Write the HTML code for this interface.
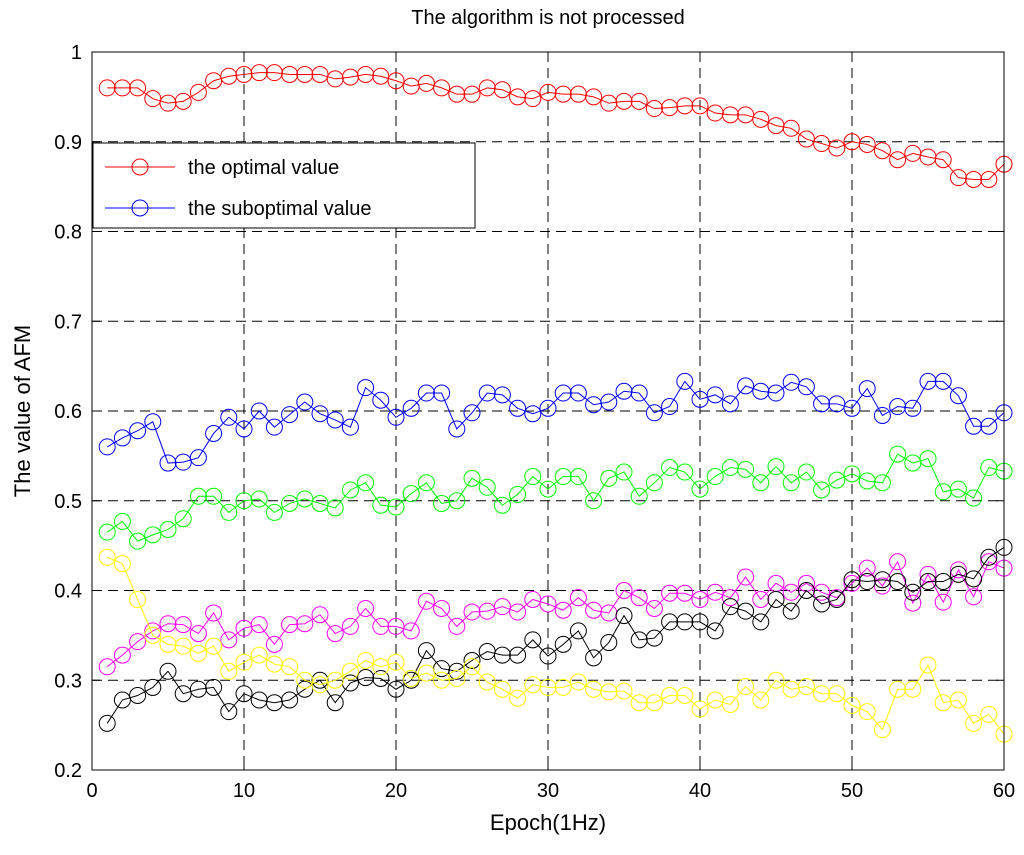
<!DOCTYPE html>
<html><head><meta charset="utf-8"><style>
body{margin:0;background:#fff;font-family:"Liberation Sans",sans-serif}
</style></head><body>
<svg id="chart" width="1024" height="850" xmlns="http://www.w3.org/2000/svg" font-family="Liberation Sans, sans-serif"></svg>
<script>
const epochs = Array.from({length:60},(_, i)=>i+1);
const optimal = [0.96,0.96,0.96,0.948,0.943,0.945,0.955,0.968,0.973,0.975,0.977,0.977,0.975,0.975,0.975,0.97,0.972,0.975,0.973,0.968,0.962,0.965,0.96,0.953,0.953,0.96,0.958,0.95,0.948,0.955,0.953,0.953,0.95,0.943,0.945,0.945,0.937,0.938,0.94,0.94,0.932,0.93,0.93,0.925,0.918,0.915,0.903,0.898,0.893,0.9,0.897,0.89,0.88,0.887,0.883,0.88,0.86,0.858,0.858,0.875];
const suboptimal = [0.56,0.57,0.578,0.588,0.542,0.543,0.548,0.575,0.593,0.58,0.6,0.582,0.596,0.61,0.597,0.59,0.582,0.626,0.612,0.593,0.603,0.62,0.62,0.58,0.598,0.62,0.618,0.603,0.597,0.603,0.62,0.62,0.607,0.61,0.622,0.62,0.598,0.605,0.633,0.613,0.618,0.608,0.628,0.622,0.62,0.632,0.627,0.608,0.608,0.603,0.625,0.595,0.605,0.603,0.633,0.633,0.617,0.583,0.583,0.598];
const greenSeries = [0.465,0.477,0.455,0.462,0.468,0.48,0.505,0.505,0.487,0.5,0.502,0.487,0.497,0.502,0.497,0.492,0.512,0.52,0.495,0.493,0.508,0.52,0.497,0.5,0.525,0.515,0.495,0.507,0.527,0.513,0.527,0.527,0.5,0.525,0.532,0.505,0.52,0.537,0.532,0.513,0.527,0.537,0.535,0.52,0.538,0.52,0.532,0.512,0.523,0.53,0.522,0.52,0.552,0.542,0.547,0.51,0.513,0.503,0.537,0.533];
const magentaSeries = [0.315,0.328,0.343,0.355,0.363,0.362,0.352,0.375,0.345,0.358,0.362,0.34,0.362,0.363,0.373,0.352,0.36,0.38,0.36,0.36,0.355,0.388,0.38,0.36,0.376,0.377,0.382,0.376,0.39,0.385,0.378,0.392,0.378,0.375,0.4,0.392,0.38,0.397,0.397,0.39,0.398,0.392,0.415,0.39,0.408,0.398,0.408,0.398,0.392,0.408,0.425,0.405,0.432,0.386,0.418,0.387,0.423,0.393,0.432,0.425];
const blackSeries = [0.252,0.278,0.283,0.292,0.31,0.285,0.29,0.292,0.265,0.285,0.278,0.275,0.278,0.29,0.3,0.275,0.297,0.303,0.302,0.29,0.3,0.333,0.313,0.31,0.322,0.332,0.328,0.328,0.345,0.327,0.34,0.355,0.325,0.342,0.372,0.345,0.347,0.365,0.365,0.365,0.355,0.382,0.377,0.365,0.39,0.377,0.4,0.385,0.39,0.412,0.41,0.412,0.41,0.398,0.41,0.41,0.418,0.413,0.437,0.448];
const yellowSeries = [0.437,0.43,0.39,0.35,0.34,0.338,0.33,0.338,0.31,0.32,0.328,0.318,0.315,0.3,0.295,0.3,0.31,0.322,0.315,0.32,0.302,0.308,0.3,0.302,0.315,0.298,0.29,0.28,0.295,0.292,0.292,0.298,0.29,0.287,0.288,0.275,0.275,0.283,0.283,0.268,0.278,0.273,0.293,0.278,0.3,0.29,0.293,0.285,0.285,0.272,0.265,0.245,0.29,0.29,0.317,0.275,0.278,0.252,0.262,0.24];
const xTicks = [0,10,20,30,40,50,60];
const yTicks = [0.2,0.3,0.4,0.5,0.6,0.7,0.8,0.9,1];

const L=92,R=1004,T=52,B=770;
const xs=v=>L+(v-0)/60*(R-L);
const ys=v=>B-(v-0.2)/0.8*(B-T);
const svg=document.getElementById('chart');
const NS='http://www.w3.org/2000/svg';
function mk(tag,attrs,parent){const e=document.createElementNS(NS,tag);for(const k in attrs)e.setAttribute(k,attrs[k]);(parent||svg).appendChild(e);return e;}

const bg=mk('rect',{x:L,y:T,width:R-L,height:B-T,fill:'#fff',stroke:'none'});



xTicks.forEach(t=>{
  const x=xs(t);
  if(t>0&&t<60){const g=mk('line',{x1:x,x2:x,y1:T,y2:B,stroke:'#000','stroke-dasharray':'10,6','stroke-width':1});
  
  }
  mk('line',{x1:x,x2:x,y1:B,y2:B-8,stroke:'#000'});
  mk('line',{x1:x,x2:x,y1:T,y2:T+8,stroke:'#000'});
  const tx=mk('text',{x:x,y:B+27,'text-anchor':'middle','font-size':20});
  tx.textContent=t;
  
  
});
yTicks.forEach(t=>{
  const y=ys(t);
  if(t>0.2&&t<1){const g=mk('line',{x1:L,x2:R,y1:y,y2:y,stroke:'#000','stroke-dasharray':'10,6','stroke-width':1});
  
  }
  mk('line',{x1:L,x2:L+8,y1:y,y2:y,stroke:'#000'});
  mk('line',{x1:R,x2:R-8,y1:y,y2:y,stroke:'#000'});
  const tx=mk('text',{x:L-10,y:y+7,'text-anchor':'end','font-size':20});
  tx.textContent=String(t);
  
  
});

const series=[[optimal,'#ff0000','optimal-series'],[suboptimal,'#0000ff','suboptimal-series'],[greenSeries,'#00ff00','green-series'],[magentaSeries,'#ff00ff','magenta-series'],[blackSeries,'#000000','black-series'],[yellowSeries,'#ffff00','yellow-series']];
series.forEach(([d,c,n])=>{
  const g=mk('g',{});
  
  
  mk('polyline',{points:d.map((v,i)=>xs(epochs[i])+','+ys(v)).join(' '),fill:'none',stroke:c,'stroke-width':1},g);
  d.forEach((v,i)=>{
    const m=mk('circle',{cx:xs(epochs[i]),cy:ys(v),r:8,fill:'none',stroke:c,'stroke-width':1},g);
    
    
  });
});

const frame=mk('rect',{x:L,y:T,width:R-L,height:B-T,fill:'none',stroke:'#000','stroke-width':1});



const lg=mk('g',{});


mk('rect',{x:93,y:143,width:382,height:85,fill:'#fff',stroke:'#000'},lg);
[['the optimal value','#ff0000',167],['the suboptimal value','#0000ff',208]].forEach(([t,c,y])=>{
  const e=mk('g',{},lg);
  
  
  mk('line',{x1:105,x2:175,y1:y,y2:y,stroke:c},e);
  mk('circle',{cx:140,cy:y,r:8,fill:'none',stroke:c},e);
  const tx=mk('text',{x:188,y:y+7,'font-size':20},e);
  tx.textContent=t;
});

const title=mk('text',{x:548,y:24,'text-anchor':'middle','font-size':20});
title.textContent='The algorithm is not processed';


const xl=mk('text',{x:548,y:830,'text-anchor':'middle','font-size':22});
xl.textContent='Epoch(1Hz)';


const yl=mk('text',{x:0,y:0,'text-anchor':'middle','font-size':22,transform:'translate(30,411) rotate(-90)'});
yl.textContent='The value of AFM';


</script>
</body></html>
